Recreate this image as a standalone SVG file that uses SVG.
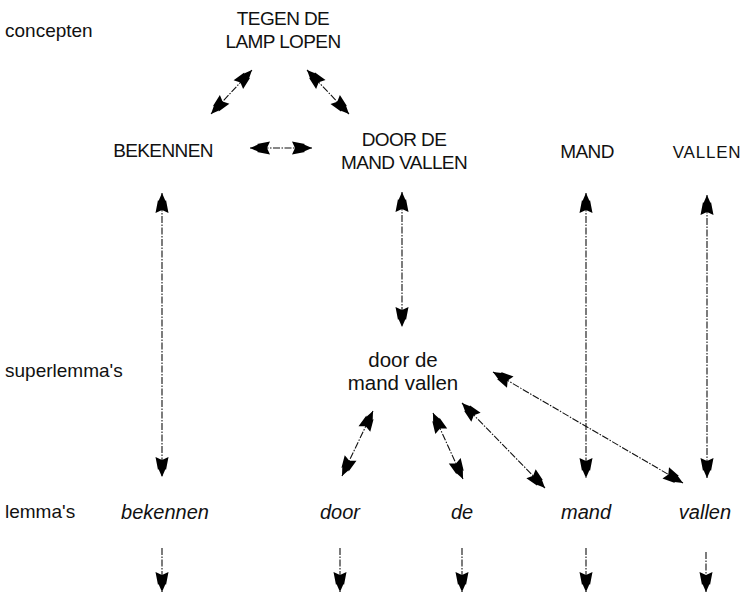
<svg xmlns="http://www.w3.org/2000/svg" width="746" height="603" viewBox="0 0 746 603">
<defs>
<style>
text{font-family:"Liberation Sans",Arial,sans-serif;fill:#111}
.lab{font-size:19px}
.cap{font-size:19px;letter-spacing:-0.6px;text-anchor:middle}
.low{font-size:20.5px;text-anchor:middle}
.it{font-size:20px;font-style:italic;text-anchor:middle}
.c{stroke:#111;stroke-width:1.1;fill:none;stroke-dasharray:7 1.5 1.5 1.5;marker-start:url(#ah);marker-end:url(#ah)}
.d{stroke:#111;stroke-width:1.1;fill:none;stroke-dasharray:7 1.5 1.5 1.5;marker-end:url(#ah)}
</style>
<marker id="ah" viewBox="-22 -8 24 16" refX="0" refY="0" markerWidth="24" markerHeight="16" markerUnits="userSpaceOnUse" orient="auto-start-reverse">
<path d="M0,0 L-8,-3.5 L-7,-4 L-20,-6.5 L-17,0 L-20,6.5 L-7,4 L-8,3.5 Z" fill="#000"/>
</marker>
</defs>
<rect width="746" height="603" fill="#fff"/>
<g id="labels">
<text class="lab" x="5" y="37">concepten</text>
<text class="lab" x="5" y="377">superlemma's</text>
<text class="lab" x="5" y="518">lemma's</text>
</g>
<g id="tegen">
<text class="cap" x="283" y="25">TEGEN DE</text>
<text class="cap" x="283" y="48">LAMP LOPEN</text>
</g>
<g id="bekennen-c"><text class="cap" x="163" y="157">BEKENNEN</text></g>
<g id="doordemand-c">
<text class="cap" x="404" y="146">DOOR DE</text>
<text class="cap" x="404" y="169">MAND VALLEN</text>
</g>
<g id="mand-c"><text class="cap" x="587" y="158">MAND</text></g>
<g id="vallen-c"><text class="cap" x="707" y="158" style="font-size:17px;letter-spacing:0.8px">VALLEN</text></g>
<g id="superlemma">
<text class="low" x="403" y="367">door de</text>
<text class="low" x="403" y="390">mand vallen</text>
</g>
<g id="lemma-bekennen"><text class="it" x="165" y="519">bekennen</text></g>
<g id="lemma-door"><text class="it" x="340" y="519">door</text></g>
<g id="lemma-de"><text class="it" x="462" y="519">de</text></g>
<g id="lemma-mand"><text class="it" x="586" y="519">mand</text></g>
<g id="lemma-vallen"><text class="it" x="705" y="519">vallen</text></g>
<g id="connectors">
<line class="c" x1="252" y1="70" x2="211" y2="114"/>
<line class="c" x1="307" y1="70" x2="349" y2="114"/>
<line class="c" x1="250" y1="148" x2="312" y2="148"/>
<line class="c" x1="162" y1="193" x2="162" y2="477"/>
<line class="c" x1="402" y1="192" x2="402" y2="327"/>
<line class="c" x1="586" y1="193" x2="586" y2="478"/>
<line class="c" x1="707" y1="195" x2="707" y2="478"/>
<line class="c" x1="373" y1="411" x2="342" y2="476"/>
<line class="c" x1="433" y1="413" x2="463" y2="479"/>
<line class="c" x1="462" y1="403" x2="545" y2="488"/>
<line class="c" x1="493" y1="372" x2="683" y2="483"/>
<line class="d" x1="162" y1="548" x2="162" y2="592"/>
<line class="d" x1="340" y1="548" x2="340" y2="592"/>
<line class="d" x1="462" y1="548" x2="462" y2="592"/>
<line class="d" x1="586" y1="548" x2="586" y2="592"/>
<line class="d" x1="706" y1="552" x2="706" y2="592"/>
</g>
</svg>
